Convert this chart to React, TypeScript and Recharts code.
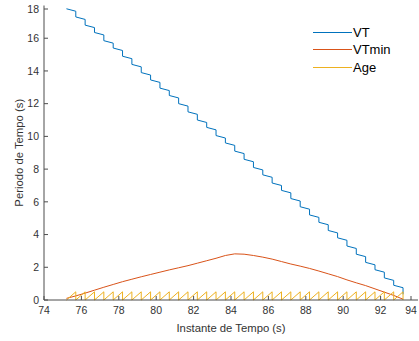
import React from "react";
import { Legend, Line, LineChart, XAxis, YAxis } from "recharts";

// instants when the period gets updated (s)
const updateTimes = [
  75.2, 75.7, 76.2, 76.7, 77.2, 77.7, 78.2, 78.7, 79.2, 79.7, 80.2, 80.7,
  81.2, 81.7, 82.2, 82.7, 83.2, 83.7, 84.2, 84.7, 85.2, 85.7, 86.2, 86.7,
  87.2, 87.7, 88.2, 88.7, 89.2, 89.7, 90.2, 90.7, 91.2, 91.7, 92.2, 92.7, 93.2,
];
// VT right after each update
const vtAtUpdate = [
  17.8, 17.3, 16.8, 16.35, 15.85, 15.4, 14.9, 14.4, 13.9, 13.45, 12.95, 12.5,
  12.0, 11.5, 11.0, 10.55, 10.05, 9.6, 9.1, 8.6, 8.1, 7.65, 7.15, 6.7,
  6.2, 5.7, 5.2, 4.75, 4.25, 3.8, 3.3, 2.8, 2.3, 1.85, 1.35, 0.9, 0.35,
];
// VT just before the next update
const vtBeforeNext = [
  17.65, 17.15, 16.65, 16.2, 15.7, 15.25, 14.75, 14.25, 13.75, 13.3, 12.8, 12.35,
  11.85, 11.35, 10.85, 10.4, 9.9, 9.45, 8.95, 8.45, 7.95, 7.5, 7.0, 6.55,
  6.05, 5.55, 5.05, 4.6, 4.1, 3.65, 3.15, 2.65, 2.15, 1.7, 1.2, 0.75,
];
const vtMin = [
  0.1, 0.25, 0.42, 0.6, 0.78, 0.95, 1.12, 1.27, 1.42, 1.56, 1.7, 1.84,
  1.97, 2.1, 2.25, 2.4, 2.55, 2.72, 2.82, 2.8, 2.72, 2.62, 2.5, 2.35,
  2.2, 2.07, 1.93, 1.77, 1.6, 1.43, 1.23, 1.05, 0.88, 0.68, 0.48, 0.28, 0.05,
];
// age reached just before each reset
const agePeak = [
  0.5, 0.5, 0.5, 0.5, 0.5, 0.5, 0.5, 0.5, 0.5, 0.5, 0.5, 0.5,
  0.5, 0.5, 0.5, 0.5, 0.5, 0.5, 0.5, 0.5, 0.5, 0.5, 0.5, 0.5,
  0.5, 0.5, 0.5, 0.5, 0.5, 0.5, 0.5, 0.5, 0.5, 0.5, 0.5, 0.5,
];
const seriesNames = ["VT", "VTmin", "Age"];
const seriesColors = ["#0072BD", "#D95319", "#EDB120"];
const xTicks = [74, 76, 78, 80, 82, 84, 86, 88, 90, 92, 94];
const yTicks = [0, 2, 4, 6, 8, 10, 12, 14, 16, 18];

const vtData: { t: number; v: number }[] = [];
const ageData: { t: number; v: number }[] = [];
for (let k = 0; k < updateTimes.length - 1; k++) {
  vtData.push({ t: updateTimes[k], v: vtAtUpdate[k] });
  vtData.push({ t: updateTimes[k + 1], v: vtBeforeNext[k] });
  ageData.push({ t: updateTimes[k], v: 0 });
  ageData.push({ t: updateTimes[k + 1], v: agePeak[k] });
}
vtData.push({ t: updateTimes[updateTimes.length - 1], v: vtAtUpdate[vtAtUpdate.length - 1] });
ageData.push({ t: updateTimes[updateTimes.length - 1], v: 0 });
const vtMinData = updateTimes.map((t, i) => ({ t, v: vtMin[i] }));
const seriesData = [vtData, vtMinData, ageData];

const AXIS = "#4d4d4d";
const TXT = "#333";
const FONT = "'Liberation Sans', Arial, sans-serif";
const TICK_LEN = 4;

const BottomTick = (p: any) => (
  <g>
    <line x1={p.x} x2={p.x} y1={p.y - 7} y2={p.y - 7 - TICK_LEN} stroke={AXIS} />
    <text x={p.x} y={p.y} dy="0.71em" textAnchor="middle" fill={TXT} fontSize={10.5} fontFamily={FONT}>
      {p.payload.value}
    </text>
  </g>
);
const LeftTick = (p: any) => (
  <g>
    <line x1={p.x + 5} x2={p.x + 5 + TICK_LEN} y1={p.y} y2={p.y} stroke={AXIS} />
    <text x={p.x} y={p.y} dy="0.355em" textAnchor="end" fill={TXT} fontSize={10.5} fontFamily={FONT}>
      {p.payload.value}
    </text>
  </g>
);
const TopTick = (p: any) => (
  <line x1={p.x} x2={p.x} y1={p.y} y2={p.y + TICK_LEN} stroke={AXIS} />
);
const RightTick = (p: any) => (
  <line x1={p.x - TICK_LEN} x2={p.x} y1={p.y} y2={p.y} stroke={AXIS} />
);

const LegendBox = () => (
  <div style={{ fontFamily: FONT, fontSize: 13, color: "#000" }}>
    {seriesNames.map((n, i) => (
      <div key={n} style={{ display: "flex", alignItems: "center", height: 17.5 }}>
        <span style={{ display: "inline-block", width: 39, height: 0, borderTop: `1.5px solid ${seriesColors[i]}`, marginRight: 1 }} />
        <span>{n}</span>
      </div>
    ))}
  </div>
);

export default function App() {
  return (
    <div style={{ position: "absolute", left: 0, top: 0, width: 419, height: 341 }}>
      <LineChart width={419} height={341} margin={{ top: 5.5, right: 1, bottom: 0, left: 0 }}>
        <XAxis
          dataKey="t"
          type="number"
          domain={[74, 94]}
          ticks={xTicks}
          height={41}
          tickSize={0}
          tickMargin={7}
          tickLine={false}
          tick={<BottomTick />}
          stroke={AXIS}
          label={{ value: "Instante de Tempo (s)", position: "center", dy: 7, fill: TXT, fontSize: 11.3, fontFamily: FONT }}
        />
        <XAxis
          xAxisId="top"
          orientation="top"
          type="number"
          domain={[74, 94]}
          ticks={xTicks}
          height={0}
          tickSize={0}
          tickMargin={0}
          tickLine={false}
          tick={<TopTick />}
          stroke={AXIS}
        />
        <YAxis
          type="number"
          domain={[0, 18]}
          ticks={yTicks}
          width={44}
          tickSize={0}
          tickMargin={5}
          tickLine={false}
          tick={<LeftTick />}
          stroke={AXIS}
          label={{ value: "Periodo de Tempo (s)", angle: -90, position: "center", dx: -3, fill: TXT, fontSize: 11.3, fontFamily: FONT }}
        />
        <YAxis
          yAxisId="right"
          orientation="right"
          type="number"
          domain={[0, 18]}
          ticks={yTicks}
          width={0}
          tickSize={0}
          tickMargin={0}
          tickLine={false}
          tick={<RightTick />}
          stroke={AXIS}
        />
        <Legend
          layout="horizontal"
          verticalAlign="middle"
          align="center"
          content={<LegendBox />}
          wrapperStyle={{ top: 23.5, left: 313, width: "auto" }}
        />
        {seriesNames.map((n, i) => (
          <Line
            key={n}
            data={seriesData[i]}
            dataKey="v"
            name={n}
            type="linear"
            stroke={seriesColors[i]}
            strokeWidth={1}
            dot={false}
            isAnimationActive={false}
          />
        ))}
      </LineChart>
    </div>
  );
}
